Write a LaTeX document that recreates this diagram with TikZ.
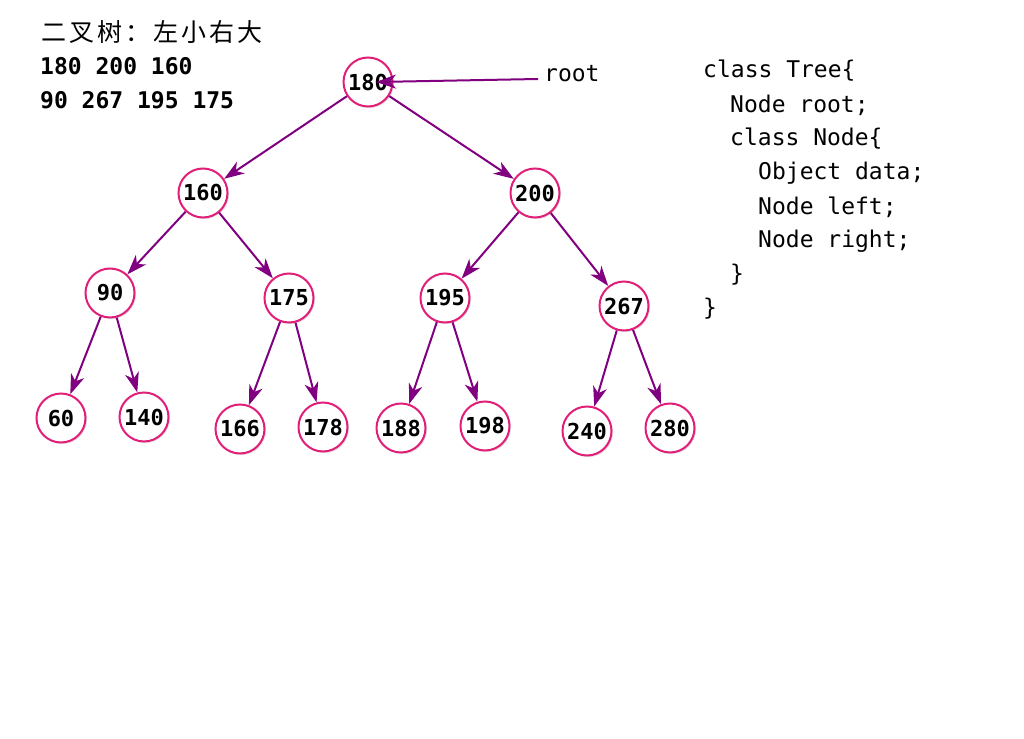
\documentclass[tikz,border=0pt]{standalone}
\usepackage{fontspec}
\setmonofont{DejaVu Sans Mono}
\newfontfamily\cjk[LetterSpace=12]{Noto Sans CJK SC}
\usetikzlibrary{arrows.meta, shadows}
\definecolor{linkpurple}{RGB}{128,0,128}
\definecolor{ringpink}{RGB}{225,30,120}

\begin{document}
\begin{tikzpicture}[
	x=1pt, y=-1pt,
	treenode/.style={circle, draw=ringpink, line width=2pt, fill=white, minimum size=49pt, inner sep=0pt,
		font=\fontsize{22}{22}\selectfont\ttfamily\bfseries,
		drop shadow={opacity=0.25, shadow xshift=1.5pt, shadow yshift=-1.5pt}},
	link/.style={-{Stealth[length=20pt, width=14pt, inset=6pt]}, draw=linkpurple, line width=2pt},
	codeline/.style={anchor=west, inner sep=0pt, font=\fontsize{23}{23}\selectfont\ttfamily},
	infotext/.style={anchor=west, inner sep=0pt, font=\fontsize{23}{23}\selectfont\ttfamily\bfseries}
]
\useasboundingbox (0,0) rectangle (1024,738);

% notes at top left
\node[anchor=west, inner sep=0pt, font=\fontsize{25}{25}\selectfont\cjk] (title) at (41,32) {二叉树：左小右大};
\node[infotext] (seq1) at (40,66) {180 200 160};
\node[infotext] (seq2) at (40,100) {90 267 195 175};

% tree nodes
\node[treenode] (n180) at (368,82) {180};
\node[treenode] (n160) at (203,193) {160};
\node[treenode] (n200) at (535,193) {200};
\node[treenode] (n90) at (110,293) {90};
\node[treenode] (n175) at (289,298) {175};
\node[treenode] (n195) at (445,298) {195};
\node[treenode] (n267) at (624,306) {267};
\node[treenode] (n60) at (61,418) {60};
\node[treenode] (n140) at (144,417) {140};
\node[treenode] (n166) at (240,429) {166};
\node[treenode] (n178) at (323,427) {178};
\node[treenode] (n188) at (401,428) {188};
\node[treenode] (n198) at (485,426) {198};
\node[treenode] (n240) at (587,431) {240};
\node[treenode] (n280) at (670,428) {280};

% root pointer
\node[anchor=west, inner sep=0pt, font=\fontsize{23}{23}\selectfont\ttfamily] (rootlabel) at (544,74) {root};
\coordinate (roottip) at (376,82);
\draw[link] (rootlabel.west) ++(-6,5) -- (roottip);

% edges
\foreach \parent/\child in {n180/n160, n180/n200, n160/n90, n160/n175, n200/n195, n200/n267,
	n90/n60, n90/n140, n175/n166, n175/n178, n195/n188, n195/n198, n267/n240, n267/n280}
	\draw[link] (\parent) -- (\child);

% class definition
\node[codeline] (code1) at (703,71) {class Tree\{};
\node[codeline] (code2) at (730,105) {Node root;};
\node[codeline] (code3) at (730,139) {class Node\{};
\node[codeline] (code4) at (758,173) {Object data;};
\node[codeline] (code5) at (758,207) {Node left;};
\node[codeline] (code6) at (758,241) {Node right;};
\node[codeline] (code7) at (730,275) {\}};
\node[codeline] (code8) at (703,309) {\}};

\end{tikzpicture}
\end{document}
